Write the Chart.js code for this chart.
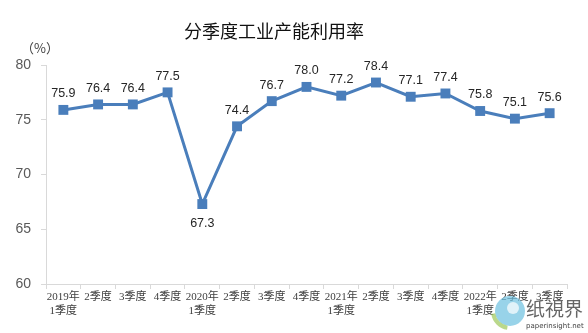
<!DOCTYPE html>
<html>
<head>
<meta charset="utf-8">
<script src="https://cdn.jsdelivr.net/npm/chart.js@4/dist/chart.umd.min.js"></script>
<style>
  html, body { margin: 0; padding: 0; background: #fff; }
  #wrap { width: 588px; height: 333px; position: relative; }
</style>
</head>
<body>
<div id="wrap"><canvas id="c" width="588" height="333"></canvas></div>
<script>
// Quarterly industrial capacity utilisation rate (%)
const quarters = [
  ['2019年', '1季度'], '2季度', '3季度', '4季度',
  ['2020年', '1季度'], '2季度', '3季度', '4季度',
  ['2021年', '1季度'], '2季度', '3季度', '4季度',
  ['2022年', '1季度'], '2季度', '3季度'
];
const utilisation = [75.9, 76.4, 76.4, 77.5, 67.3, 74.4, 76.7, 78.0, 77.2, 78.4, 77.1, 77.4, 75.8, 75.1, 75.6];
const yTicks = [60, 65, 70, 75, 80];

const chartTitle = '分季度工业产能利用率';
const unitLabel = '（%）';

const lineColor = '#4a7ebb';
const axisColor = '#d9d9d9';

// Title, unit caption and watermark
const decorations = {
  id: 'decorations',
  afterDraw(chart) {
    const ctx = chart.ctx;
    ctx.save();
    ctx.fillStyle = '#111';
    ctx.font = '18px "Noto Sans CJK SC", sans-serif';
    ctx.textAlign = 'center';
    ctx.textBaseline = 'middle';
    ctx.fillText(chartTitle, 274, 31);

    ctx.fillStyle = '#404040';
    ctx.font = '13px "Noto Sans CJK SC", sans-serif';
    ctx.fillText(unitLabel, 40, 48);

    // watermark
    ctx.globalAlpha = 0.7;
    ctx.beginPath();
    ctx.fillStyle = '#6cc0e0';
    ctx.arc(510, 311, 15, 0, Math.PI * 2);
    ctx.fill();
    ctx.beginPath();
    ctx.fillStyle = '#ffffff';
    ctx.arc(513, 308, 6, 0, Math.PI * 2);
    ctx.fill();
    ctx.beginPath();
    ctx.strokeStyle = '#9cc85a';
    ctx.lineWidth = 4;
    ctx.arc(510, 311, 17, Math.PI * 0.55, Math.PI * 0.95);
    ctx.stroke();
    ctx.globalAlpha = 1;
    ctx.fillStyle = '#666';
    ctx.font = '19px "Noto Sans CJK SC", serif';
    ctx.textAlign = 'left';
    ctx.fillText('纸視界', 526, 309);
    ctx.font = '7px "DejaVu Sans", sans-serif';
    ctx.fillStyle = '#444';
    ctx.fillText('paperinsight.net', 526, 326);
    ctx.restore();
  }
};

// Value labels above each marker (below for the trough)
const valueLabels = {
  id: 'valueLabels',
  afterDatasetsDraw(chart) {
    const ctx = chart.ctx;
    const meta = chart.getDatasetMeta(0);
    ctx.save();
    ctx.fillStyle = '#262626';
    ctx.font = '12.5px "Liberation Sans", Arial, sans-serif';
    ctx.textAlign = 'center';
    ctx.textBaseline = 'middle';
    meta.data.forEach((pt, i) => {
      const v = utilisation[i];
      const below = v === Math.min(...utilisation);
      ctx.fillText(v.toFixed(1), pt.x, below ? pt.y + 19 : pt.y - 16);
    });
    ctx.restore();
  }
};

new Chart(document.getElementById('c'), {
  type: 'line',
  data: {
    labels: quarters,
    datasets: [{
      data: utilisation,
      borderColor: lineColor,
      backgroundColor: lineColor,
      borderWidth: 3,
      pointStyle: 'rect',
      pointRadius: 7,
      pointHoverRadius: 7,
      pointBackgroundColor: lineColor,
      pointBorderWidth: 0,
      tension: 0
    }]
  },
  options: {
    responsive: false,
    animation: false,
    events: [],
    layout: { padding: { top: 65, right: 21, bottom: 0, left: 0 } },
    plugins: { legend: { display: false }, title: { display: false }, tooltip: { enabled: false } },
    scales: {
      x: {
        offset: true,
        grid: { offset: true, drawOnChartArea: false, drawTicks: true, tickLength: 5, tickColor: axisColor },
        border: { color: axisColor, width: 1 },
        ticks: {
          color: '#404040',
          font: { family: '"Liberation Serif", "Noto Sans CJK SC", serif', size: 11 },
          padding: 2,
          maxRotation: 0,
          autoSkip: false
        },
        afterFit(s) { s.height = 49; }
      },
      y: {
        min: 60,
        max: 80,
        afterBuildTicks(s) { s.ticks = yTicks.map(v => ({ value: v })); },
        grid: { drawOnChartArea: false, drawTicks: true, tickLength: 5, tickColor: axisColor },
        border: { color: axisColor, width: 1 },
        ticks: {
          color: '#595959',
          font: { family: '"Liberation Sans", Arial, sans-serif', size: 14 },
          padding: 10
        },
        afterFit(s) { s.width = 46; }
      }
    }
  },
  plugins: [valueLabels, decorations]
});
</script>
</body>
</html>
